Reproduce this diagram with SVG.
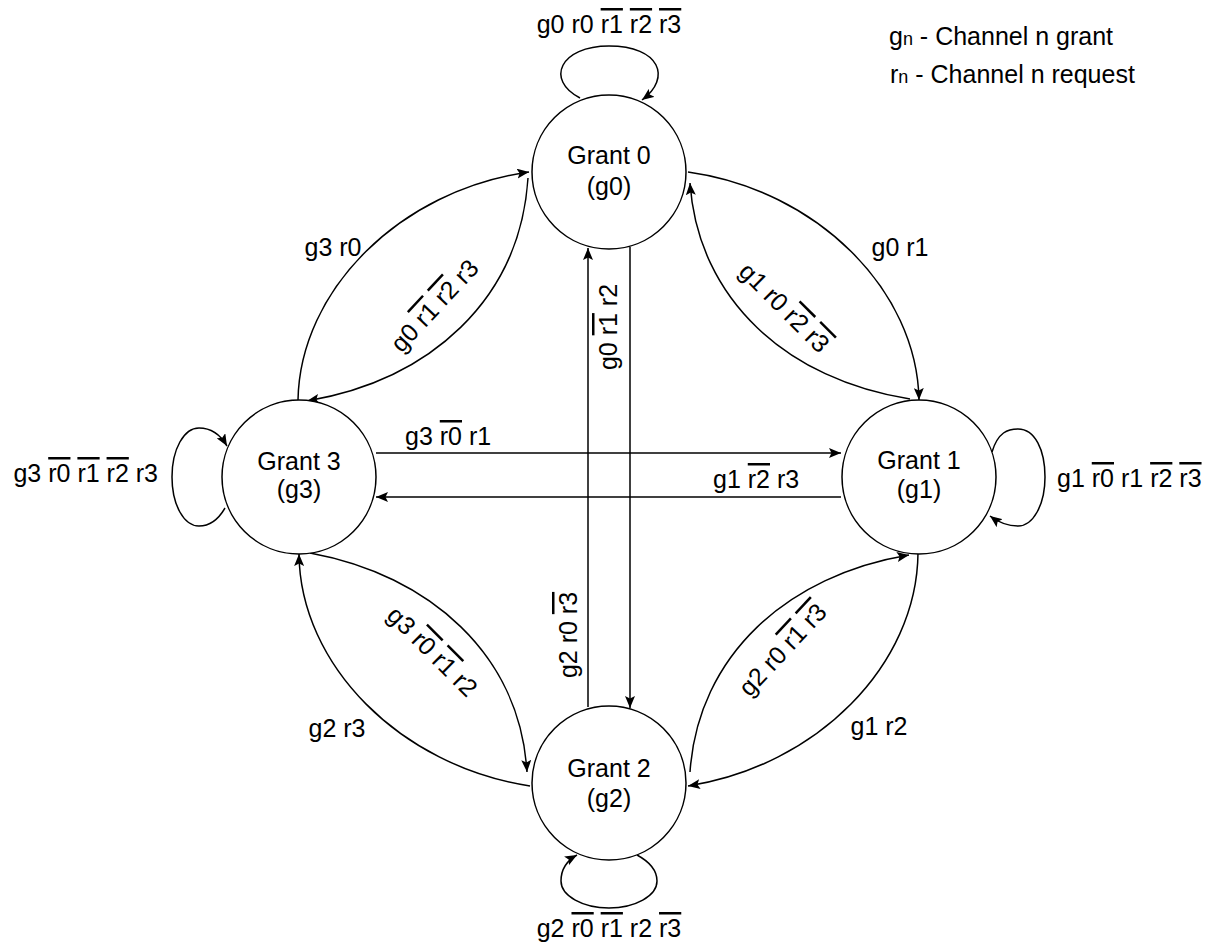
<svg xmlns="http://www.w3.org/2000/svg" width="1212" height="943" viewBox="0 0 1212 943">
<style>
text{font-family:"Liberation Sans",Arial,Helvetica,sans-serif;font-size:25px;fill:#000}
.node circle{fill:#fff;stroke:#000;stroke-width:1.5}
.edge{fill:none;stroke:#000;stroke-width:1.5;marker-end:url(#arr)}
.ov{text-decoration:overline}
.mid{text-anchor:middle}
.sm{font-size:18px}
</style>
<defs>
<marker id="arr" viewBox="0 0 12 10" refX="12" refY="5" markerWidth="12" markerHeight="10" markerUnits="userSpaceOnUse" orient="auto">
<path d="M0,0 L12,5 L0,10 L2.5,5 Z" fill="#000"/>
</marker>
</defs>
<rect width="1212" height="943" fill="#fff"/>

<g id="connectors">
<!-- self loops -->
<path class="edge" d="M580 98 C545 80 560 46 609 46 C660 46 672 78 642 100"/>
<path class="edge" d="M992 452 C998 432 1008 429 1018 429 C1035 429 1045 450 1045 477 C1045 505 1033 526 1018 526 C1008 526 998 522 990 516"/>
<path class="edge" d="M225 508 C218 520 210 526 199 526 C184 526 172 505 172 477 C172 449 184 428 199 428 C210 428 220 434 227 446"/>
<path class="edge" d="M637 855 C650 862 657 870 657 881 C657 896 635 908 609 908 C583 908 561 896 561 881 C561 868 568 860 577 855"/>
<!-- G3 -> G0 outer -->
<path class="edge" d="M298 400 C300 290 400 190 529 172"/>
<!-- G0 -> G3 inner -->
<path class="edge" d="M528 178 C520 300 430 380 307 401"/>
<!-- G0 -> G1 outer -->
<path class="edge" d="M688 172 C817 190 917 290 919 400"/>
<!-- G1 -> G0 inner -->
<path class="edge" d="M910 399 C788 380 698 300 690 183"/>
<!-- G3 -> G2 inner -->
<path class="edge" d="M310 553 C430 575 520 655 527 772"/>
<!-- G2 -> G3 outer -->
<path class="edge" d="M530 786 C400 766 300 665 299 554"/>
<!-- G2 -> G1 inner -->
<path class="edge" d="M690 772 C698 655 788 575 909 555"/>
<!-- G1 -> G2 outer -->
<path class="edge" d="M918 553 C917 665 817 766 688 786"/>
<!-- horizontals -->
<path class="edge" d="M376 453 L841 453"/>
<path class="edge" d="M841 497 L376 497"/>
<!-- verticals -->
<path class="edge" d="M630 247 L630 708"/>
<path class="edge" d="M588 707 L588 248"/>
</g>

<g id="edge-labels">
<text class="mid" x="609" y="33">g0 r0 <tspan class="ov">r1</tspan> <tspan class="ov">r2</tspan> <tspan class="ov">r3</tspan></text>
<text x="1057" y="487">g1 <tspan class="ov">r0</tspan> r1 <tspan class="ov">r2</tspan> <tspan class="ov">r3</tspan></text>
<text x="158" y="482" text-anchor="end">g3 <tspan class="ov">r0</tspan> <tspan class="ov">r1</tspan> <tspan class="ov">r2</tspan> r3</text>
<text class="mid" x="609" y="937">g2 <tspan class="ov">r0</tspan> <tspan class="ov">r1</tspan> r2 <tspan class="ov">r3</tspan></text>
<text class="mid" x="333" y="256">g3 r0</text>
<text class="mid" x="900" y="256">g0 r1</text>
<text class="mid" x="337" y="737">g2 r3</text>
<text class="mid" x="879" y="735">g1 r2</text>
<text x="405" y="445">g3 <tspan class="ov">r0</tspan> r1</text>
<text x="713" y="488">g1 <tspan class="ov">r2</tspan> r3</text>
<text class="mid" transform="translate(617,327) rotate(-90)">g0 <tspan class="ov">r1</tspan> r2</text>
<text class="mid" transform="translate(577,635) rotate(-90)">g2 r0 <tspan class="ov">r3</tspan></text>
<text class="mid" transform="translate(435,306) rotate(-47)" y="8">g0 <tspan class="ov">r1</tspan> <tspan class="ov">r2</tspan> r3</text>
<text class="mid" transform="translate(784,308) rotate(45)" y="8">g1 r0 <tspan class="ov">r2</tspan> <tspan class="ov">r3</tspan></text>
<text class="mid" transform="translate(432,652) rotate(45)" y="8">g3 <tspan class="ov">r0</tspan> <tspan class="ov">r1</tspan> r2</text>
<text class="mid" transform="translate(783,650) rotate(-47)" y="8">g2 r0 <tspan class="ov">r1</tspan> <tspan class="ov">r3</tspan></text>
</g>

<g id="node-g0" class="node">
<circle cx="609" cy="172" r="77"/>
<text class="mid" x="609" y="164">Grant 0</text>
<text class="mid" x="609" y="195">(g0)</text>
</g>
<g id="node-g1" class="node">
<circle cx="919" cy="477" r="77"/>
<text class="mid" x="919" y="469">Grant 1</text>
<text class="mid" x="919" y="498">(g1)</text>
</g>
<g id="node-g2" class="node">
<circle cx="609" cy="783" r="77"/>
<text class="mid" x="609" y="777">Grant 2</text>
<text class="mid" x="609" y="807">(g2)</text>
</g>
<g id="node-g3" class="node">
<circle cx="299" cy="477" r="77"/>
<text class="mid" x="299" y="470">Grant 3</text>
<text class="mid" x="299" y="498">(g3)</text>
</g>

<g id="legend">
<text x="889" y="45">g<tspan class="sm">n</tspan> - Channel n grant</text>
<text x="890" y="83">r<tspan class="sm">n</tspan> - Channel n request</text>
</g>
</svg>
